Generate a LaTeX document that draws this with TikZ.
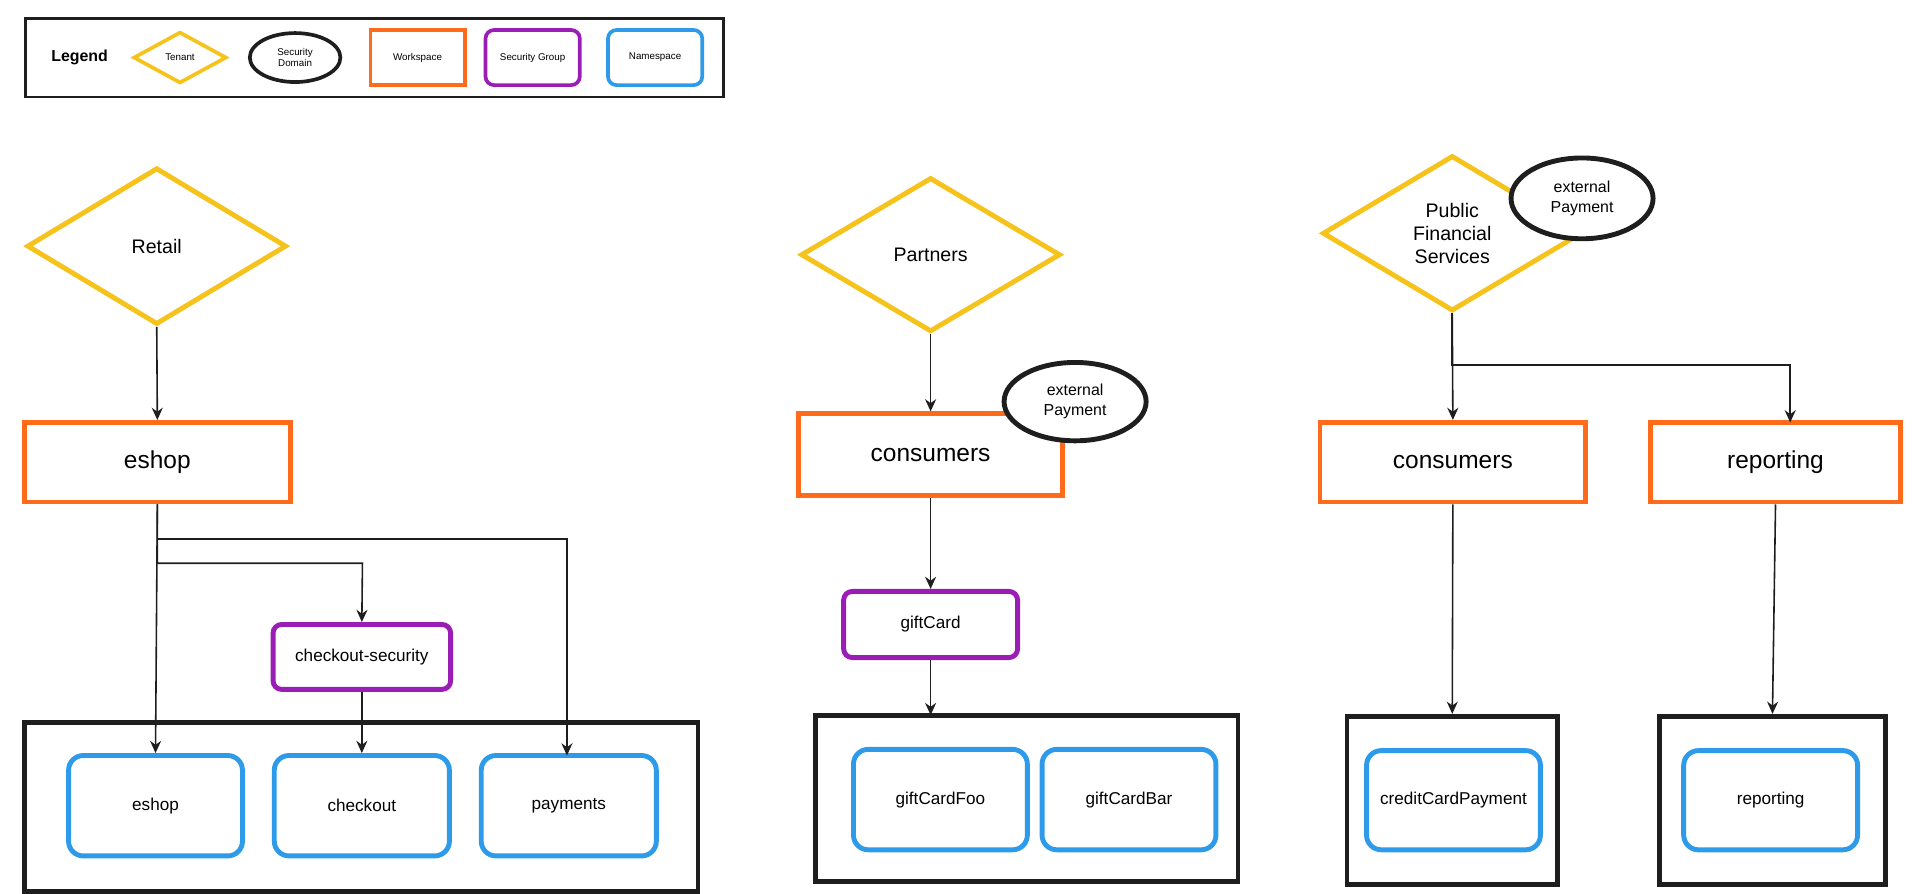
\documentclass[tikz,border=0pt]{standalone}
\usepackage{fontspec}
\setmainfont{Liberation Sans}
\usetikzlibrary{shapes.geometric,arrows.meta}
\definecolor{ten}{HTML}{F6C21C}
\definecolor{wsp}{HTML}{FF6B1A}
\definecolor{sgr}{HTML}{9A1DB5}
\definecolor{nsp}{HTML}{2E9BEA}
\definecolor{blk}{HTML}{1E1E1E}
\tikzset{
 tenant/.style={diamond,draw=ten,line width=4pt,inner sep=0pt,align=center,font=\fontsize{16}{19}\selectfont},
 sdom/.style={ellipse,draw=blk,fill=white,line width=4pt,inner sep=0pt,align=center,font=\fontsize{13}{16}\selectfont},
 wsp/.style={rectangle,draw=wsp,line width=4pt,inner sep=0pt,font=\fontsize{20}{24}\selectfont},
 sgr/.style={rectangle,rounded corners=7pt,draw=sgr,line width=4pt,inner sep=0pt,font=\fontsize{14}{17}\selectfont},
 nsp/.style={rectangle,rounded corners=12pt,draw=nsp,line width=4pt,inner sep=0pt,font=\fontsize{14}{17}\selectfont},
 grp/.style={rectangle,draw=blk,line width=4pt,inner sep=0pt},
 arr/.style={-{Stealth[length=10pt,width=9pt]},draw=blk,line width=1.3pt},
 tiny/.style={font=\fontsize{8}{9.5}\selectfont}
}
\begin{document}
\begin{tikzpicture}[x=1pt,y=-1pt]
\useasboundingbox (0,0) rectangle (1568,730);
% legend
\node[draw=blk,line width=2pt,minimum width=570,minimum height=64,anchor=north west] (leg) at (20,14) {};
\node[font=\bfseries\fontsize{13}{15}\selectfont] (legt) at (65,47) {Legend};
\node[tenant,minimum width=76,minimum height=42,line width=3pt,tiny] (l1) at (147,47) {Tenant};
\node[sdom,minimum width=74,minimum height=40,line width=3pt,tiny] (l2) at (241,47) {Security\\Domain};
\node[wsp,minimum width=77,minimum height=45,line width=3pt,tiny] (l3) at (341,47) {Workspace};
\node[sgr,minimum width=77,minimum height=45,line width=3pt,tiny] (l4) at (435,47) {Security Group};
\node[nsp,minimum width=77,minimum height=45,line width=3pt,tiny,rounded corners=7pt] (l5) at (535,47) {Namespace};
% Retail
\node[tenant,minimum width=212,minimum height=128] (ret) at (128,201) {Retail};
\node[wsp,minimum width=217,minimum height=65] (esw) at (128.5,377.5) {eshop};
\node[sgr,minimum width=145,minimum height=53] (cks) at (295.5,536.5) {checkout-security};
\node[grp,minimum width=550,minimum height=138] (rg) at (295,659) {};
\node[nsp,minimum width=142,minimum height=82] (n1) at (127,658) {eshop};
\node[nsp,minimum width=143,minimum height=82] (n2) at (295.5,658) {checkout};
\node[nsp,minimum width=143,minimum height=82] (n3) at (464.5,658) {payments};
\draw[arr] (ret.south) -- (esw.north);
\draw[arr] (esw.south) -- (n1.north);
\draw[arr] (esw.south) |- (296,460) -- (cks.north);
\draw[arr] (esw.south) |- (463,440) -- (463,617);
\draw[arr] (cks.south) -- (n2.north);
% Partners
\node[tenant,minimum width=212,minimum height=126] (par) at (760,208) {Partners};
\node[wsp,minimum width=216,minimum height=67] (pcw) at (760,371.5) {consumers};
\node[sdom,minimum width=116,minimum height=64] (pex) at (878,328) {external\\Payment};
\node[sgr,minimum width=142,minimum height=54] (gc) at (760,510) {giftCard};
\node[grp,minimum width=345,minimum height=136] (pg) at (838.5,652) {};
\node[nsp,minimum width=142,minimum height=82] (n4) at (768,653) {giftCardFoo};
\node[nsp,minimum width=142,minimum height=82] (n5) at (922,653) {giftCardBar};
\draw[arr] (par.south) -- (pcw.north);
\draw[arr] (pcw.south) -- (gc.north);
\draw[arr] (gc.south) -- (760,584);
% Public Financial Services
\node[tenant,minimum width=212,minimum height=127] (pfs) at (1186,190.5) {Public\\Financial\\Services};
\node[sdom,minimum width=116,minimum height=66] (fex) at (1292,162) {external\\Payment};
\node[wsp,minimum width=217,minimum height=65] (fcw) at (1186.5,377.5) {consumers};
\node[wsp,minimum width=204,minimum height=65] (frw) at (1450,377.5) {reporting};
\node[grp,minimum width=172,minimum height=137] (fg1) at (1186,653.5) {};
\node[grp,minimum width=185,minimum height=137] (fg2) at (1447.5,653.5) {};
\node[nsp,minimum width=142,minimum height=81] (n6) at (1187,653.5) {creditCardPayment};
\node[nsp,minimum width=142,minimum height=81] (n7) at (1446,653.5) {reporting};
\draw[arr] (pfs.south) -- (fcw.north);
\draw[arr] (pfs.south) |- (1462,298) -- (1462,345);
\draw[arr] (fcw.south) -- (fg1.north);
\draw[arr] (frw.south) -- (fg2.north);
\end{tikzpicture}
\end{document}
